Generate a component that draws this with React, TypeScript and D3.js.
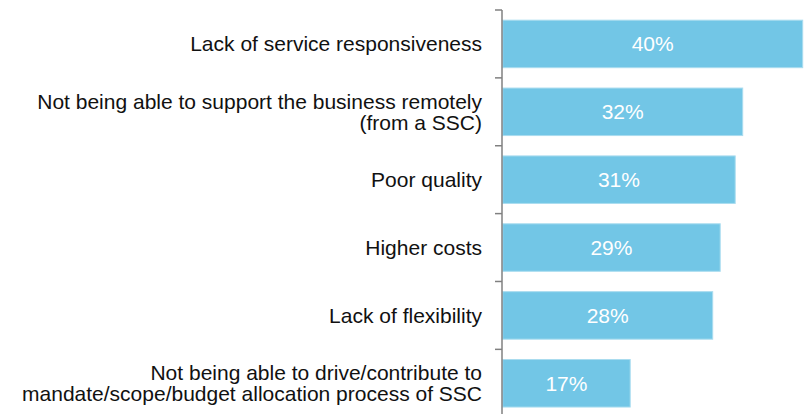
import { useMemo } from "react";
import * as d3 from "d3";

const WIDTH = 811;
const HEIGHT = 414;

const categories = [
  ["Lack of service responsiveness"],
  ["Not being able to support the business remotely", "(from a SSC)"],
  ["Poor quality"],
  ["Higher costs"],
  ["Lack of flexibility"],
  ["Not being able to drive/contribute to", "mandate/scope/budget allocation process of SSC"],
];
const values = [40, 32, 31, 29, 28, 17];

const AXIS_X = 502;
const BAR_COLOR = "#72c6e6";

export default function App() {
  const keys = categories.map((c) => c.join(" "));

  const yScale = useMemo(
    () =>
      d3
        .scaleBand()
        .domain(keys)
        .range([10, 10 + 6 * 67.87])
        .paddingInner(0.3)
        .paddingOuter(0.15),
    []
  );

  const xScale = useMemo(
    () => d3.scaleLinear().domain([0, 40]).range([AXIS_X + 0.7, AXIS_X + 300.7]),
    []
  );

  const step = yScale.step();
  const ticks = d3.range(0, keys.length + 1).map((i) => 10 + i * step);

  return (
    <svg
      width={WIDTH}
      height={HEIGHT}
      style={{ position: "absolute", left: 0, top: 0 }}
      fontFamily="'Liberation Sans', Arial, sans-serif"
    >
      {keys.map((k, i) => {
        const y = yScale(k)!;
        const bw = yScale.bandwidth();
        const lines = categories[i];
        const cy = y + bw / 2;
        const lh = 21;
        return (
          <g key={k}>
            <rect
              x={xScale(0)}
              y={y}
              width={xScale(values[i]) - xScale(0)}
              height={bw}
              fill={BAR_COLOR}
              stroke="#a9dcef"
              strokeWidth={1}
            />
            <text
              x={(xScale(0) + xScale(values[i])) / 2}
              y={cy}
              dy="0.36em"
              textAnchor="middle"
              fill="#ffffff"
              fontSize={21}
            >
              {values[i]}%
            </text>
            {lines.map((line, j) => (
              <text
                key={j}
                x={482}
                y={cy + (j - (lines.length - 1) / 2) * lh}
                dy="0.36em"
                textAnchor="end"
                fill="#111111"
                fontSize={21}
              >
                {line}
              </text>
            ))}
          </g>
        );
      })}
      <line x1={AXIS_X} x2={AXIS_X} y1={10} y2={HEIGHT} stroke="#808080" strokeWidth={1.5} />
      {ticks.map((t, i) => (
        <line key={i} x1={AXIS_X - 7} x2={AXIS_X} y1={t} y2={t} stroke="#808080" strokeWidth={1.5} />
      ))}
    </svg>
  );
}
